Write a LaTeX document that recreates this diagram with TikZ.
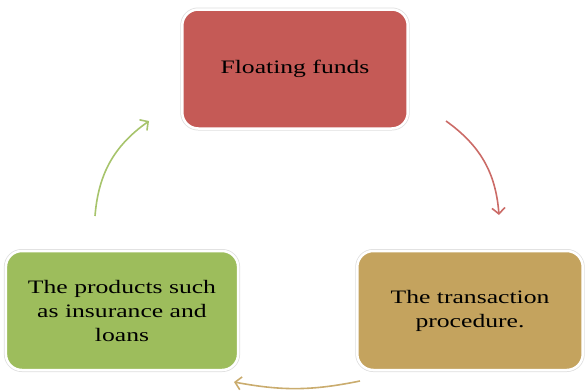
\documentclass[tikz,border=0pt]{standalone}
\usepackage{fontspec}
\setmainfont{Liberation Serif}
\usepackage{tikz}
\usetikzlibrary{positioning,arrows.meta}
\definecolor{floatred}{HTML}{C55A56}
\definecolor{procgold}{HTML}{C4A35E}
\definecolor{prodgreen}{HTML}{9DBD5C}
\tikzset{
  stage/.style={shape=rectangle,rounded corners=16pt,draw=white,line width=2.5pt,
    preaction={draw=black!13,line width=4pt},
    align=center,text=black,font=\fontsize{19}{24}\selectfont,
    xscale=1.35,minimum height=119pt},
  cycle/.style={line width=1.6pt,-{Straight Barb[length=6pt,width=13pt]}}
}

\begin{document}
\begin{tikzpicture}[x=1pt,y=1pt]
    \useasboundingbox (0,0) rectangle (585,-391);
    % the three stages
    \node[stage,fill=floatred,minimum width=167pt] (funds) at (295,-69) {Floating funds};
    \node[stage,fill=procgold,minimum width=167pt] (procedure) at (470,-310.5) {The transaction\\procedure.};
    \node[stage,fill=prodgreen,minimum width=172pt] (products) at (122,-310.5) {The products such\\as insurance and\\loans};
    % arrow ends
    \coordinate (f1) at (446,-121);
    \coordinate (f2) at (499,-215);
    \coordinate (p1) at (360,-381);
    \coordinate (p2) at (234,-382);
    \coordinate (g1) at (95,-216);
    \coordinate (g2) at (149,-121);
    \draw[cycle,floatred!90] (f1) to[bend left=25] (f2);
    \draw[cycle,procgold!90] (p1) to[bend left=11] (p2);
    \draw[cycle,prodgreen!90] (g1) to[bend left=25] (g2);
\end{tikzpicture}
\end{document}
